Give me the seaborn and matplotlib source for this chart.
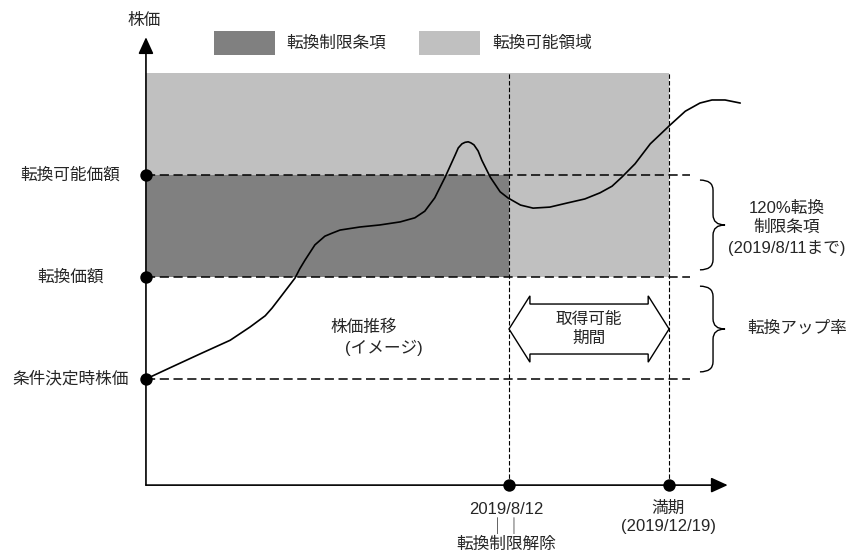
import matplotlib
matplotlib.use("Agg")
import matplotlib.pyplot as plt
import matplotlib.patches as mpatches
from matplotlib.path import Path
import seaborn as sns
import pandas as pd

# --- データ (時間 t: 満期=100, 株価 p: 条件決定時株価=100) ---
t_release = 69.4      # 2019/8/12 転換制限解除
t_maturity = 100.0    # 満期 2019/12/19
p_base = 100.0        # 条件決定時株価
p_conv = 120.0        # 転換価額
p_cap = 140.0         # 転換可能価額
p_top = 160.0         # 領域の上端
p_axis = 79.2         # 横軸の位置

level_labels = ["転換可能価額", "転換価額", "条件決定時株価"]
level_values = [p_cap, p_conv, p_base]

# 株価推移 (イメージ)
t_curve = [0, 4.6, 10.3, 16.1, 19.9, 22.8, 24.1, 25.6, 28.5, 29.4, 30.4, 32.3,
           34.2, 35.6, 37.1, 40.9, 44.7, 48.6, 51.4, 53.3, 55.2, 57.2, 59.1,
           59.7, 60.4, 61.0, 61.6, 62.1, 62.7, 63.5, 64.2, 65.8, 67.7, 69.2,
           71.6, 74.0, 77.2, 80.5, 83.9, 86.8, 89.1, 91.0, 93.5, 96.4, 100.2,
           103.1, 105.9, 108.2, 110.7, 113.6]
p_curve = [100, 102.2, 104.9, 107.6, 110.2, 112.4, 113.9, 115.9, 119.8, 121.6,
           123.3, 126.3, 128.0, 128.6, 129.2, 129.8, 130.2, 130.8, 131.6, 132.9,
           135.5, 139.6, 143.9, 145.3, 146.1, 146.4, 146.5, 146.3, 145.9, 144.7,
           142.9, 139.6, 136.7, 135.5, 134.1, 133.5, 133.7, 134.5, 135.3, 136.5,
           137.8, 139.6, 142.2, 146.1, 149.8, 152.5, 154.1, 154.7, 154.7, 154.1]

df_curve = pd.DataFrame({"t": t_curve, "p": p_curve})
df_dots = pd.DataFrame({"t": [0, 0, 0, t_release, t_maturity],
                        "p": [p_cap, p_conv, p_base, p_axis, p_axis]})

sns.set_theme(style="white")
plt.rcParams["font.family"] = ["Liberation Sans", "Noto Sans CJK JP", "DejaVu Sans"]

DARK = "#808080"
LIGHT = "#C0C0C0"
FS = 12

fig = plt.figure(figsize=(8.48, 5.55), dpi=100)
ax = fig.add_axes([0, 0, 1, 1])

# 領域
ax.fill_between([0, t_release, t_release, t_maturity],
                [p_cap, p_cap, p_conv, p_conv], p_top, color=LIGHT, lw=0)
ax.fill_between([0, t_release], p_conv, p_cap, color=DARK, lw=0)

# 水平破線
for p in level_values:
    ax.plot([0, 104.0], [p, p], color="black", lw=1.1, dashes=(6, 3))

# 垂直点線
for t in [t_release, t_maturity]:
    ax.plot([t, t], [p_axis, p_top], color="black", lw=0.8, dashes=(4, 2))

# 軸
arrow = mpatches.ArrowStyle("-|>", head_length=0.7, head_width=0.32)
ax.annotate("", xy=(0, 167.0), xytext=(0, p_axis),
            arrowprops=dict(arrowstyle=arrow, color="black", lw=1.2,
                            mutation_scale=14.4, shrinkA=0, shrinkB=0))
ax.annotate("", xy=(111.2, p_axis), xytext=(0, p_axis),
            arrowprops=dict(arrowstyle=arrow, color="black", lw=1.2,
                            mutation_scale=14.4, shrinkA=0, shrinkB=0))

# 株価推移
sns.lineplot(data=df_curve, x="t", y="p", sort=False, color="black", lw=1.2,
             ax=ax, legend=False, solid_joinstyle="round")

sns.scatterplot(data=df_dots, x="t", y="p", color="black", s=80,
                edgecolor="black", linewidth=0, ax=ax, zorder=5, legend=False)

ax.set_xlim(-27.9, 134.2)
ax.set_ylim(65.5, 174.3)
ax.axis("off")

# ラベル
ax.text(-0.4, 170.2, "株価", ha="center", va="center", fontsize=FS)
for lab, p in zip(level_labels, level_values):
    ax.text(-14.5, p, lab, ha="center", va="center", fontsize=FS)

# 凡例
ax.add_patch(mpatches.Rectangle((13.0, 163.5), 11.7, 4.7, color=DARK, lw=0))
ax.text(26.8, 165.9, "転換制限条項", ha="left", va="center", fontsize=FS)
ax.add_patch(mpatches.Rectangle((52.2, 163.5), 11.7, 4.7, color=LIGHT, lw=0))
ax.text(66.2, 165.9, "転換可能領域", ha="left", va="center", fontsize=FS)

ax.text(35.2, 110.2, "株価推移", ha="left", va="center", fontsize=FS)
ax.text(38.0, 106.1, "(イメージ)", ha="left", va="center", fontsize=FS)

# 取得可能期間の両矢印
pm = 109.8
hl = 4.0
arr = [(t_release, pm), (t_release + hl, 116.3), (t_release + hl, 114.7),
       (t_maturity - hl, 114.7), (t_maturity - hl, 116.3), (t_maturity, pm),
       (t_maturity - hl, 103.3), (t_maturity - hl, 104.9),
       (t_release + hl, 104.9), (t_release + hl, 103.3)]
ax.add_patch(mpatches.Polygon(arr, closed=True, facecolor="white",
                              edgecolor="black", lw=1.0, zorder=4))
ax.text((t_release + t_maturity) / 2, pm, "取得可能\n期間", ha="center",
        va="center", fontsize=FS, linespacing=1.35, zorder=6)


# 波括弧
def brace(x0, xm, xt, hi, lo, r=2.0):
    mid = (hi + lo) / 2
    verts = [(x0, hi), (xm, hi), (xm, hi - r), (xm, mid + r), (xm, mid), (xt, mid),
             (xm, mid), (xm, mid - r), (xm, lo + r), (xm, lo), (x0, lo)]
    codes = [Path.MOVETO, Path.CURVE3, Path.CURVE3, Path.LINETO, Path.CURVE3,
             Path.CURVE3, Path.CURVE3, Path.CURVE3, Path.LINETO, Path.CURVE3,
             Path.CURVE3]
    ax.add_patch(mpatches.PathPatch(Path(verts, codes), facecolor="none",
                                    edgecolor="black", lw=1.0))


brace(105.9, 108.4, 110.7, 139.0, 121.4)
brace(105.9, 108.4, 110.7, 118.2, 101.4)

ax.text(122.4, 129.6, "120%転換\n制限条項\n(2019/8/11まで)", ha="center",
        va="center", fontsize=FS, linespacing=1.35)
ax.text(124.5, 110.0, "転換アップ率", ha="center", va="center", fontsize=FS)

# 横軸ラベル
ax.text(68.8, 71.0, "2019/8/12\n｜｜\n転換制限解除", ha="center", va="center",
        fontsize=FS, linespacing=1.15)
ax.text(99.8, 72.9, "満期\n(2019/12/19)", ha="center", va="center",
        fontsize=FS, linespacing=1.2)

fig.savefig("out.png", dpi=100)
